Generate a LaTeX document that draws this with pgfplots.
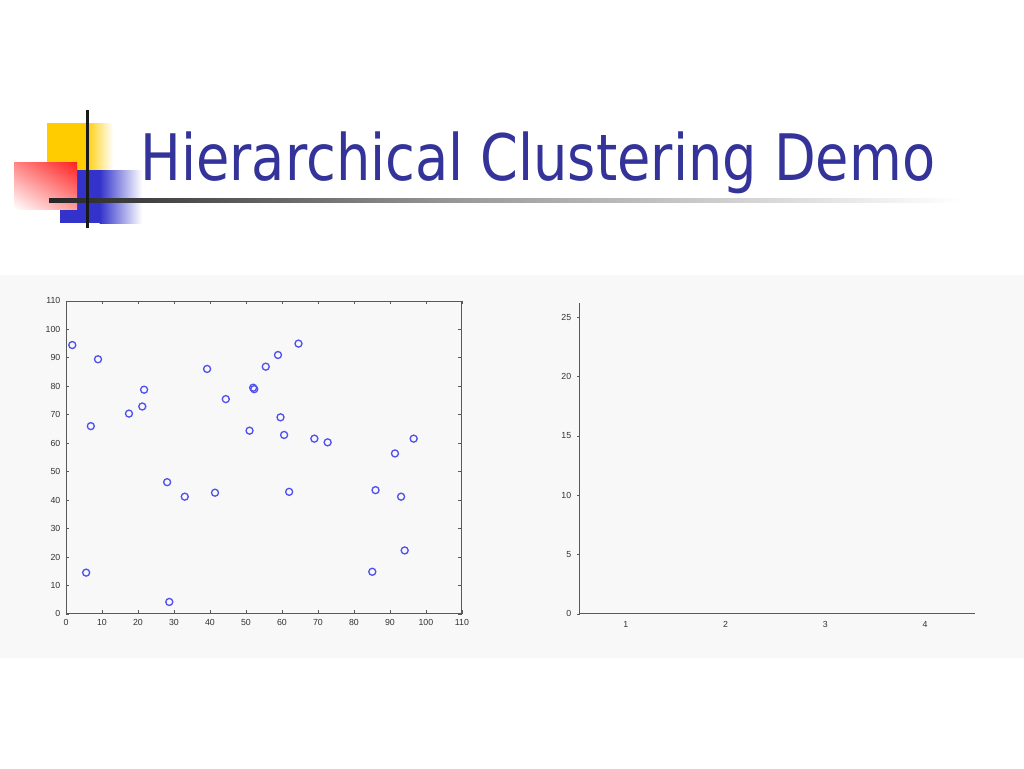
\documentclass[border=0pt]{standalone}
\usepackage{fontspec}
\setmainfont{Liberation Sans}
\newfontfamily\titlefont{DejaVu Sans}
\usepackage{graphicx}
\usepackage{pgfplots}
\pgfplotsset{compat=1.18}
\usetikzlibrary{shadings}

\definecolor{titleblue}{HTML}{333399}
\definecolor{decoyellow}{HTML}{FFCC00}
\definecolor{decoblue}{HTML}{3333CC}
\definecolor{decored}{HTML}{FF2020}
\definecolor{panelgray}{HTML}{F8F8F8}
\definecolor{markblue}{HTML}{5050F0}
\definecolor{ticktext}{HTML}{333333}

% points of the scatter panel
\pgfplotstableread{
x     y
1.75  94.5
8.9   89.5
6.9   66.0
5.6   14.5
17.5  70.4
21.2  72.9
21.7  78.8
28.1  46.3
33.0  41.2
28.7  4.2
39.2  86.1
41.4  42.6
44.4  75.5
51.0  64.4
52.0  79.5
52.3  79.0
55.5  86.9
58.9  91.0
64.6  95.0
59.6  69.1
60.6  62.9
69.0  61.6
72.7  60.3
62.0  42.9
91.4  56.4
96.6  61.6
86.0  43.5
93.1  41.2
94.1  22.3
85.1  14.8
}\scatterdata

\begin{document}
\begin{tikzpicture}[x=0.02cm, y=-0.02cm]
% page: 1024 x 768 px, y measured from the top
\path[use as bounding box, fill=white] (0,0) rectangle (1024,768);

% slide decoration
\fill[decoyellow] (47,123) rectangle (86,186);
\shade[left color=decoyellow, right color=white] (85.5,123) rectangle (113,186);
\fill[decoblue] (60,170) rectangle (100,223);
\shade[left color=decoblue, right color=white] (99.5,170) rectangle (142,223);
\shade[upper left=decored!55!white, upper right=decored, lower left=white, lower right=decored!45!white] (14,162) rectangle (77,209);
\shade[left color=black!85, right color=black!40] (49,198.5) rectangle (460,202.5);
\shade[left color=black!40, right color=white] (459.5,198.5) rectangle (962,202.5);
\draw[line width=0.06cm, black!90] (87,110) -- (87,228);

% title
\node[anchor=base west, inner sep=0pt, text=titleblue] at (140,180)
  {\resizebox{15.9cm}{\height}{\titlefont\fontsize{36.5}{40}\selectfont Hierarchical Clustering Demo}};

% light panel behind the figures
\fill[panelgray] (0,275) rectangle (1024,658);

\pgfplotsset{
  mystyle/.style={
    scale only axis,
    axis line style={black!65, line width=0.5pt},
    tick style={black!65, line width=0.4pt},
    major tick length=0.07cm,
    ticklabel style={font=\fontsize{5}{6}\selectfont, text=ticktext},
    /pgf/number format/assume math mode=true,
  }
}

\begin{axis}[
    mystyle,
    at={(1.32cm,-12.28cm)}, anchor=south west,
    width=7.92cm, height=6.26cm,
    xmin=0, xmax=110, ymin=0, ymax=110,
    xtick={0,10,...,110}, ytick={0,10,...,110},
    tick align=inside,
    xticklabel style={yshift=0.02cm},
    yticklabel style={xshift=0.01cm},
]
\addplot[only marks, mark=o, mark size=2pt, color=markblue, mark options={line width=0.75pt}]
  table[x=x, y=y] {\scatterdata};
\end{axis}

\begin{axis}[
    mystyle,
    at={(11.6cm,-12.28cm)}, anchor=south west,
    width=7.9cm, height=6.22cm,
    axis lines*=left,
    xmin=0.54, xmax=4.5, ymin=0, ymax=26.2,
    xtick={1,2,3,4}, ytick={0,5,...,25},
    tick align=outside,
    major tick length=0.05cm,
    xtick style={draw=none},
    xticklabel style={yshift=0.02cm},
]
\addplot[draw=none] coordinates {(1,0) (4,0)};
\end{axis}
\end{tikzpicture}
\end{document}
